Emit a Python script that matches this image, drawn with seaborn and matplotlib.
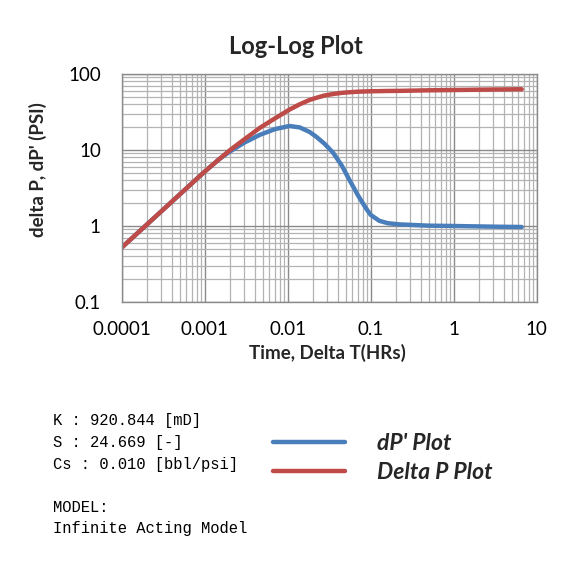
import matplotlib
matplotlib.use("Agg")
import matplotlib.pyplot as plt
import matplotlib.ticker as mticker
import seaborn as sns
import pandas as pd

# time values (hrs)
time_hrs = [0.0001, 0.0002, 0.0005, 0.001, 0.0015, 0.002, 0.003, 0.0046, 0.007,
            0.0105, 0.014, 0.0183, 0.022, 0.0275, 0.035, 0.045, 0.055, 0.07,
            0.088, 0.1, 0.127, 0.16, 0.22, 0.5, 1.0, 3.0, 6.6]
delta_p = [0.52, 1.04, 2.6, 5.2, 7.6, 9.9, 13.8, 19.5, 26.0,
           34.0, 40.0, 45.5, 48.5, 52.0, 54.5, 56.5, 57.5, 58.5,
           59.0, 59.3, 59.5, 59.8, 60.0, 61.0, 61.6, 62.5, 63.0]
dp_prime = [0.52, 1.04, 2.6, 5.2, 7.6, 9.5, 12.5, 15.8, 18.8,
            20.7, 19.8, 17.3, 15.0, 12.2, 9.3, 6.2, 4.1, 2.55,
            1.7, 1.4, 1.17, 1.09, 1.05, 1.01, 1.0, 0.98, 0.97]

x_ticks = [0.0001, 0.001, 0.01, 0.1, 1, 10]
x_tick_labels = ["0.0001", "0.001", "0.01", "0.1", "1", "10"]
y_ticks = [0.1, 1, 10, 100]
y_tick_labels = ["0.1", "1", "10", "100"]

info_lines = ["K : 920.844 [mD]", "S : 24.669 [-]", "Cs : 0.010 [bbl/psi]"]
model_lines = ["MODEL:", "Infinite Acting Model"]

BLUE = "#4A7EBB"
RED = "#BE4B48"

df = pd.DataFrame({"t": time_hrs, "dP": delta_p, "dPp": dp_prime})

sns.set_theme(style="white")
plt.rcParams["font.family"] = ["Lato", "DejaVu Sans"]

W, H = 575, 579
fig = plt.figure(figsize=(W / 100, H / 100), dpi=100)
ax = fig.add_axes([121.7 / W, 1 - 302 / H, 415 / W, 228 / H])

sns.lineplot(data=df, x="t", y="dPp", ax=ax, color=BLUE, linewidth=3.2,
             sort=False, label="dP' Plot", legend=False)
sns.lineplot(data=df, x="t", y="dP", ax=ax, color=RED, linewidth=3.2,
             sort=False, label="Delta P Plot", legend=False)

ax.set_xscale("log")
ax.set_yscale("log")
ax.set_xlim(0.0001, 10)
ax.set_ylim(0.1, 100)
ax.set_xticks(x_ticks)
ax.set_xticklabels(x_tick_labels)
ax.set_yticks(y_ticks)
ax.set_yticklabels(y_tick_labels)
ax.xaxis.set_minor_locator(mticker.LogLocator(base=10, subs=range(2, 10), numticks=20))
ax.yaxis.set_minor_locator(mticker.LogLocator(base=10, subs=range(2, 10), numticks=20))
ax.xaxis.set_minor_formatter(mticker.NullFormatter())
ax.yaxis.set_minor_formatter(mticker.NullFormatter())
ax.tick_params(which="both", length=0, labelsize=13.5, colors="black")
ax.tick_params(axis="x", pad=14)
ax.tick_params(axis="y", pad=15)

ax.grid(True, which="major", color="#8a8a8a", linewidth=1.0)
ax.grid(True, which="minor", color="#b3b3b3", linewidth=0.9)
ax.set_axisbelow(True)
for sp in ax.spines.values():
    sp.set_color("#8a8a8a")
    sp.set_linewidth(1.0)

ax.set_xlabel("")
ax.set_ylabel("")
fig.text(296 / W, 1 - 47 / H, "Log-Log Plot", ha="center", va="center",
         fontsize=17, fontweight="bold")
fig.text(327 / W, 1 - 353 / H, "Time, Delta T(HRs)", ha="center", va="center",
         fontsize=13.5, fontweight="bold")
fig.text(38 / W, 1 - 170 / H, "delta P, dP' (PSI)", ha="center", va="center",
         rotation=90, fontsize=13.5, fontweight="bold")

# parameter block
mono = ["Liberation Mono", "DejaVu Sans Mono"]
for i, line in enumerate(info_lines):
    fig.text(52.7 / W, 1 - (421 + 21.5 * i) / H, line, ha="left", va="center",
             fontsize=11.2, family=mono, color="black")
for i, line in enumerate(model_lines):
    fig.text(52.7 / W, 1 - (507 + 21 * i) / H, line, ha="left", va="center",
             fontsize=11.2, family=mono, color="black")

handles = ax.get_lines()[:2]
fig.legend(handles, [h.get_label() for h in handles], loc="center left",
           bbox_to_anchor=(273 / W, 1 - 458 / H), frameon=False,
           prop={"weight": "bold", "style": "italic", "size": 16.5},
           handlelength=3.15, handletextpad=1.4, labelspacing=0.35,
           borderpad=0, borderaxespad=0)

fig.savefig("out.png", dpi=100, facecolor="white")
